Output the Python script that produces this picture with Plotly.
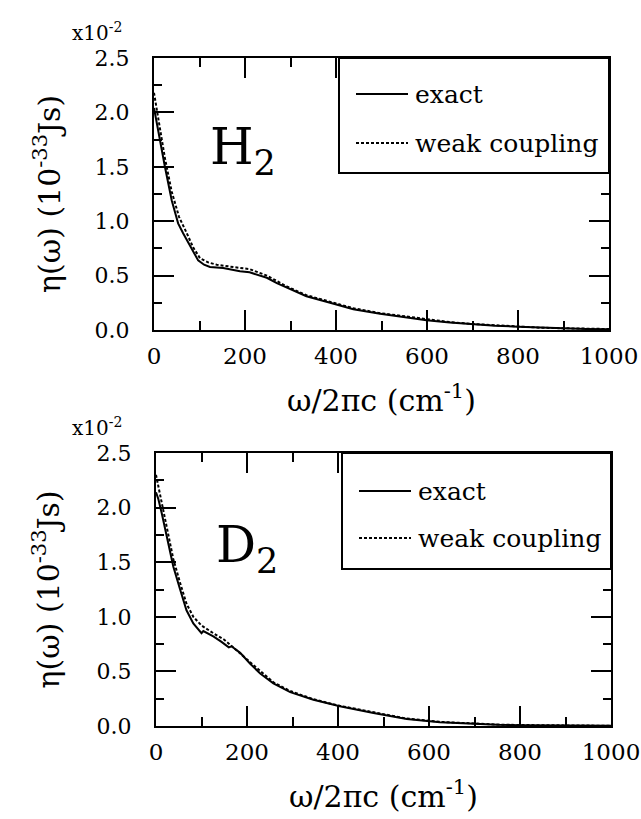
import plotly.graph_objects as go

# Frequency axis (cm^-1) and friction kernel eta(omega) in units of 1e-35 Js (axis shows x10^-2)
h2_exact_x = [0, 10, 24, 39, 53, 64, 79, 97, 110, 123, 152, 189, 210, 226, 248, 270, 292, 335,
              387, 438, 497, 550, 599, 650, 695, 750, 800, 850, 900, 950, 1000]
h2_exact_y = [2.04, 1.80, 1.50, 1.19, 0.98, 0.89, 0.77, 0.64, 0.60, 0.58, 0.57, 0.54, 0.53, 0.51,
              0.48, 0.43, 0.39, 0.31, 0.25, 0.19, 0.15, 0.12, 0.09, 0.07, 0.055, 0.04, 0.03, 0.02,
              0.015, 0.01, 0.008]

h2_weak_x = [0, 10, 24, 39, 55, 72, 86, 101, 120, 138, 160, 189, 210, 230, 248, 270, 292, 335,
             387, 438, 497, 550, 599, 650, 695, 750, 800, 850, 900, 950, 1000]
h2_weak_y = [2.18, 1.92, 1.58, 1.27, 1.04, 0.89, 0.76, 0.66, 0.62, 0.60, 0.59, 0.57, 0.56, 0.53,
             0.50, 0.45, 0.40, 0.32, 0.26, 0.20, 0.155, 0.125, 0.095, 0.073, 0.057, 0.042, 0.031,
             0.021, 0.016, 0.011, 0.009]

d2_exact_x = [0, 5, 12.5, 27, 38, 53, 67, 82, 95, 100, 104, 126, 144, 155, 160, 166, 185, 207,
              229, 258, 295, 346, 404, 478, 551, 624, 690, 750, 800, 850, 900, 1000]
d2_exact_y = [2.14, 2.08, 1.95, 1.67, 1.46, 1.25, 1.06, 0.94, 0.87, 0.85, 0.87, 0.82, 0.77, 0.73,
              0.72, 0.73, 0.67, 0.57, 0.48, 0.39, 0.31, 0.24, 0.18, 0.12, 0.064, 0.035, 0.02,
              0.012, 0.008, 0.005, 0.003, 0.002]

d2_weak_x = [0, 5, 12.5, 27, 38, 53, 67, 82, 100, 126, 150, 175, 200, 229, 258, 295, 346, 404,
             478, 551, 624, 690, 750, 800, 850, 900, 1000]
d2_weak_y = [2.30, 2.20, 2.04, 1.75, 1.53, 1.31, 1.12, 1.00, 0.92, 0.85, 0.79, 0.70, 0.61, 0.50,
             0.40, 0.32, 0.245, 0.185, 0.125, 0.068, 0.038, 0.022, 0.013, 0.009, 0.006, 0.004,
             0.002]

series_names = ["exact", "weak coupling"]
x_ticks = [0, 200, 400, 600, 800, 1000]
y_ticks = [0.0, 0.5, 1.0, 1.5, 2.0, 2.5]

W, H = 641, 819
FONT = "DejaVu Serif"

fig = go.Figure()

solid = dict(color="black", width=2)
dotted = dict(color="black", width=2, dash="3px,2px")
styles = [solid, dotted]

for (xs, ys, ax, ay, st, nm) in [
    (h2_exact_x, h2_exact_y, "x", "y", solid, series_names[0]),
    (h2_weak_x, h2_weak_y, "x", "y", dotted, series_names[1]),
    (d2_exact_x, d2_exact_y, "x2", "y2", solid, series_names[0]),
    (d2_weak_x, d2_weak_y, "x2", "y2", dotted, series_names[1]),
]:
    fig.add_trace(go.Scatter(x=xs, y=ys, mode="lines", line=st, name=nm,
                             xaxis=ax, yaxis=ay, showlegend=False))


def px_x(p):
    return p / W


def px_y(p):
    return 1 - p / H


def xaxis(domain, anchor):
    return dict(domain=domain, anchor=anchor, range=[0, 1000], tickvals=x_ticks,
                ticks="inside", ticklen=20, tickwidth=2, tickcolor="black",
                minor=dict(dtick=100, ticks="inside", ticklen=9, tickwidth=2, tickcolor="black"),
                showline=True, linewidth=2, linecolor="black", mirror="allticks",
                showgrid=False, zeroline=False, automargin=False, ticklabelstandoff=4,
                tickfont=dict(family=FONT, size=23, color="black"))


def yaxis(domain, anchor):
    return dict(domain=domain, anchor=anchor, range=[0, 2.5], tickvals=y_ticks, tickformat=".1f",
                ticks="inside", ticklen=20, tickwidth=2, tickcolor="black",
                minor=dict(dtick=0.25, ticks="inside", ticklen=8, tickwidth=2, tickcolor="black"),
                showline=True, linewidth=2, linecolor="black", mirror="allticks",
                showgrid=False, zeroline=False, automargin=False, ticklabelstandoff=18,
                tickfont=dict(family=FONT, size=22, color="black"))


top_x = [px_x(154), px_x(609)]
top_y = [px_y(330), px_y(58)]
bot_x = [px_x(156), px_x(611)]
bot_y = [px_y(726), px_y(453)]

fig.update_layout(
    template="none",
    width=W, height=H, margin=dict(l=0, r=0, t=0, b=0, autoexpand=False),
    paper_bgcolor="white", plot_bgcolor="white",
    font=dict(family=FONT, color="black"),
    xaxis=xaxis(top_x, "y"), yaxis=yaxis(top_y, "x"),
    xaxis2=xaxis(bot_x, "y2"), yaxis2=yaxis(bot_y, "x2"),
    showlegend=False,
)

ann = []
shapes = []
# per panel: axis domains, species label, label position, legend box (left, bottom), legend rows
panels = [
    (top_x, top_y, "H<sub>2</sub>", 208, 150, 339, 173, [94, 143]),
    (bot_x, bot_y, "D<sub>2</sub>", 214, 548, 342, 569, [491, 538]),
]
for (xd, yd, label, lx, ly, bl, bb, rows) in panels:
    ann.append(dict(xref="paper", yref="paper", x=px_x(lx), y=px_y(ly), xanchor="left",
                    yanchor="middle", showarrow=False, text=label,
                    font=dict(family=FONT, size=50, color="black")))
    ann.append(dict(xref="paper", yref="paper", x=px_x(97), y=yd[1] + 26 / H, xanchor="center",
                    yanchor="middle", showarrow=False, text="x10<sup>-2</sup>",
                    font=dict(family=FONT, size=20, color="black")))
    ann.append(dict(xref="paper", yref="paper", x=px_x(47), y=(yd[0] + yd[1]) / 2,
                    xanchor="center", yanchor="middle", showarrow=False, textangle=-90,
                    text="η(ω) (10<sup>-33</sup>Js)",
                    font=dict(family=FONT, size=30, color="black")))
    ann.append(dict(xref="paper", yref="paper", x=(xd[0] + xd[1]) / 2, y=yd[0] - 68 / H,
                    xanchor="center", yanchor="middle", showarrow=False,
                    text="ω/2πc (cm<sup>-1</sup>)",
                    font=dict(family=FONT, size=30, color="black")))
    # legend frame
    shapes.append(dict(type="rect", xref="paper", yref="paper", layer="above",
                       x0=px_x(bl), x1=xd[1], y0=px_y(bb), y1=yd[1],
                       fillcolor="white", line=dict(color="black", width=2)))
    for name, st, ry in zip(series_names, styles, rows):
        shapes.append(dict(type="line", xref="paper", yref="paper", layer="above",
                           x0=px_x(bl + 17), x1=px_x(bl + 69), y0=px_y(ry), y1=px_y(ry),
                           line=st))
        ann.append(dict(xref="paper", yref="paper", x=px_x(bl + 74), y=px_y(ry),
                        xanchor="left", yanchor="middle", showarrow=False, text=name,
                        font=dict(family=FONT, size=25, color="black")))
fig.update_layout(annotations=ann, shapes=shapes)

fig.write_html("out.html")
